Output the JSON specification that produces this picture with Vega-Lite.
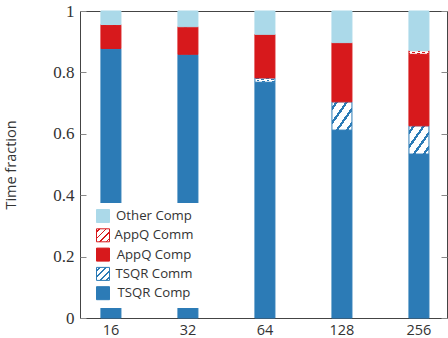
{
  "$schema": "https://vega.github.io/schema/vega-lite/v6.json",
  "width": 367,
  "height": 307,
  "autosize": {"type": "none"},
  "padding": {"left": 80, "top": 11, "right": 1, "bottom": 20},
  "config": {"view": {"stroke": "#444", "strokeWidth": 1}, "axis": {"grid": false}},
  "data": {"values": [
    {"procs": 16, "series": "TSQR Comp", "frac": 0.876, "rank": 1},
    {"procs": 16, "series": "TSQR Comm", "frac": 0.002, "rank": 2},
    {"procs": 16, "series": "AppQ Comp", "frac": 0.075, "rank": 3},
    {"procs": 16, "series": "AppQ Comm", "frac": 0.003, "rank": 4},
    {"procs": 16, "series": "Other Comp", "frac": 0.044, "rank": 5},
    {"procs": 32, "series": "TSQR Comp", "frac": 0.855, "rank": 1},
    {"procs": 32, "series": "TSQR Comm", "frac": 0.004, "rank": 2},
    {"procs": 32, "series": "AppQ Comp", "frac": 0.088, "rank": 3},
    {"procs": 32, "series": "AppQ Comm", "frac": 0.002, "rank": 4},
    {"procs": 32, "series": "Other Comp", "frac": 0.051, "rank": 5},
    {"procs": 64, "series": "TSQR Comp", "frac": 0.768, "rank": 1},
    {"procs": 64, "series": "TSQR Comm", "frac": 0.014, "rank": 2},
    {"procs": 64, "series": "AppQ Comp", "frac": 0.140, "rank": 3},
    {"procs": 64, "series": "AppQ Comm", "frac": 0.002, "rank": 4},
    {"procs": 64, "series": "Other Comp", "frac": 0.076, "rank": 5},
    {"procs": 128, "series": "TSQR Comp", "frac": 0.612, "rank": 1},
    {"procs": 128, "series": "TSQR Comm", "frac": 0.092, "rank": 2},
    {"procs": 128, "series": "AppQ Comp", "frac": 0.190, "rank": 3},
    {"procs": 128, "series": "AppQ Comm", "frac": 0.003, "rank": 4},
    {"procs": 128, "series": "Other Comp", "frac": 0.103, "rank": 5},
    {"procs": 256, "series": "TSQR Comp", "frac": 0.534, "rank": 1},
    {"procs": 256, "series": "TSQR Comm", "frac": 0.092, "rank": 2},
    {"procs": 256, "series": "AppQ Comp", "frac": 0.233, "rank": 3},
    {"procs": 256, "series": "AppQ Comm", "frac": 0.012, "rank": 4},
    {"procs": 256, "series": "Other Comp", "frac": 0.129, "rank": 5}
  ]},
  "layer": [
    {
      "mark": {"type": "bar", "width": 20, "strokeWidth": 1},
      "encoding": {
        "x": {
          "field": "procs", "type": "ordinal",
          "scale": {"paddingInner": 0.5, "paddingOuter": 0.133, "align": 0.57},
          "axis": {"title": null, "labelAngle": 0, "ticks": false, "domain": false, "labelFont": "Open Sans", "labelFontSize": 14.5, "labelColor": "#333", "labelPadding": 5}
        },
        "y": {
          "field": "frac", "type": "quantitative", "stack": "zero",
          "scale": {"domain": [0, 1], "nice": false},
          "axis": {"title": "Time fraction", "values": [0, 0.2, 0.4, 0.6, 0.8, 1], "format": "~g", "domain": false, "tickSize": -6, "tickColor": "#888", "labelPadding": 12, "labelFont": "Liberation Serif", "labelFontSize": 17, "labelColor": "#333", "titleFont": "Open Sans", "titleFontSize": 14.5, "titleFontWeight": "normal", "titleColor": "#333", "titlePadding": 34}
        },
        "fill": {
          "field": "series", "type": "nominal",
          "scale": {
            "domain": ["Other Comp", "AppQ Comm", "AppQ Comp", "TSQR Comm", "TSQR Comp"],
            "range": [
              "#abd9e9",
              {"expr": "{gradient: 'linear', x1: 0, y1: 0, x2: 1, y2: 1, stops: [{offset: 0, color: '#ffffff'}, {offset: 0.09, color: '#ffffff'}, {offset: 0.09, color: '#d7191c'}, {offset: 0.16, color: '#d7191c'}, {offset: 0.16, color: '#ffffff'}, {offset: 0.34, color: '#ffffff'}, {offset: 0.34, color: '#d7191c'}, {offset: 0.41, color: '#d7191c'}, {offset: 0.41, color: '#ffffff'}, {offset: 0.59, color: '#ffffff'}, {offset: 0.59, color: '#d7191c'}, {offset: 0.66, color: '#d7191c'}, {offset: 0.66, color: '#ffffff'}, {offset: 0.84, color: '#ffffff'}, {offset: 0.84, color: '#d7191c'}, {offset: 0.91, color: '#d7191c'}, {offset: 0.91, color: '#ffffff'}, {offset: 1, color: '#ffffff'}]}"},
              "#d7191c",
              {"expr": "{gradient: 'linear', x1: 0, y1: 0, x2: 1, y2: 1, stops: [{offset: 0, color: '#ffffff'}, {offset: 0.09, color: '#ffffff'}, {offset: 0.09, color: '#2c7bb6'}, {offset: 0.16, color: '#2c7bb6'}, {offset: 0.16, color: '#ffffff'}, {offset: 0.34, color: '#ffffff'}, {offset: 0.34, color: '#2c7bb6'}, {offset: 0.41, color: '#2c7bb6'}, {offset: 0.41, color: '#ffffff'}, {offset: 0.59, color: '#ffffff'}, {offset: 0.59, color: '#2c7bb6'}, {offset: 0.66, color: '#2c7bb6'}, {offset: 0.66, color: '#ffffff'}, {offset: 0.84, color: '#ffffff'}, {offset: 0.84, color: '#2c7bb6'}, {offset: 0.91, color: '#2c7bb6'}, {offset: 0.91, color: '#ffffff'}, {offset: 1, color: '#ffffff'}]}"},
              "#2c7bb6"
            ]
          },
          "legend": {"orient": "bottom-left", "offset": 10, "padding": 6, "fillColor": "white", "strokeColor": null, "title": null, "symbolType": "square", "symbolSize": 169, "symbolStrokeWidth": 1, "labelFont": "Open Sans", "labelFontSize": 13.2, "labelColor": "#333", "labelAlign": "center", "labelOffset": 44, "rowPadding": 1.3, "labelLimit": 200}
        },
        "stroke": {
          "field": "series", "type": "nominal",
          "scale": {
            "domain": ["Other Comp", "AppQ Comm", "AppQ Comp", "TSQR Comm", "TSQR Comp"],
            "range": ["#abd9e9", "#d7191c", "#d7191c", "#2c7bb6", "#2c7bb6"]
          },
          "legend": {"orient": "bottom-left", "offset": 10, "padding": 6, "fillColor": "white", "strokeColor": null, "title": null, "symbolType": "square", "symbolSize": 169, "symbolStrokeWidth": 1, "labelFont": "Open Sans", "labelFontSize": 13.2, "labelColor": "#333", "labelAlign": "center", "labelOffset": 44, "rowPadding": 1.3, "labelLimit": 200}
        },
        "order": {"field": "rank", "type": "quantitative"}
      }
    },
    {
      "mark": {"type": "rule", "opacity": 0},
      "encoding": {
        "y": {
          "field": "frac", "type": "quantitative",
          "scale": {"domain": [0, 1], "nice": false},
          "axis": {"orient": "right", "title": null, "labels": false, "values": [0, 0.2, 0.4, 0.6, 0.8, 1], "domain": false, "tickSize": -6, "tickColor": "#888"}
        }
      }
    }
  ],
  "resolve": {"axis": {"y": "independent"}}
}
